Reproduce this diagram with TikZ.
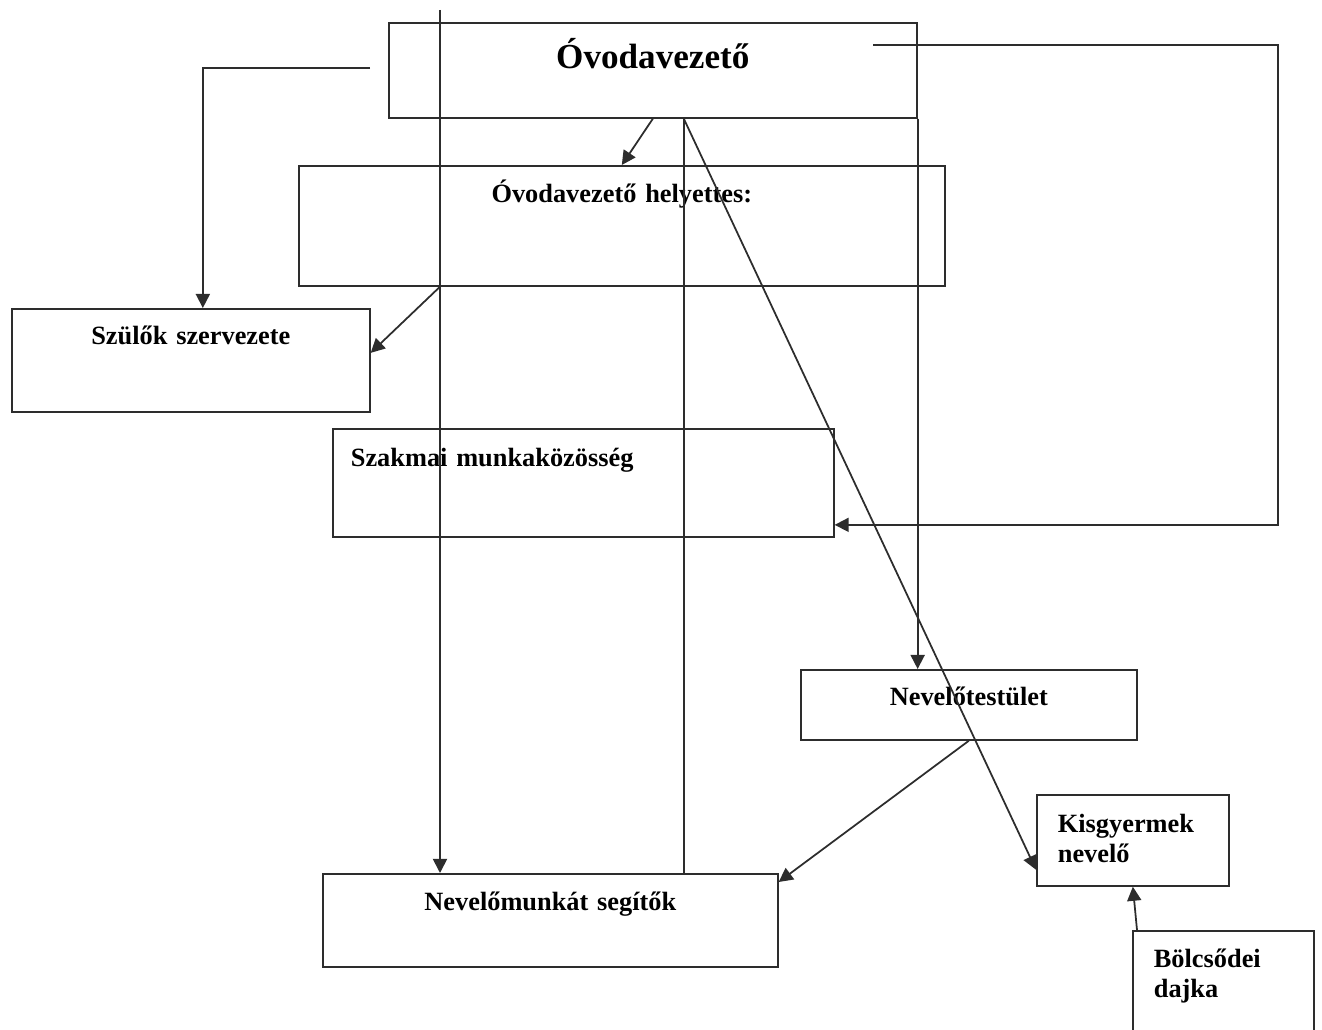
\documentclass[tikz,border=0pt]{standalone}
\usepackage{fontspec}
\setmainfont{Liberation Serif}
\definecolor{orgline}{RGB}{45,45,45}
\usetikzlibrary{arrows.meta,positioning,calc}

\begin{document}
\begin{tikzpicture}[x=0.02cm, y=-0.02cm,
  unitbox/.style={draw=orgline, line width=1pt, inner sep=0pt, anchor=north west, font=\bfseries\fontsize{15pt}{17pt}\selectfont},
  link/.style={draw=orgline, line width=1pt},
  arr/.style={link, -{Triangle[length=8pt, width=8pt]}}]
  \useasboundingbox (0,0) rectangle (1322,1030);
  \clip (0,0) rectangle (1322,1030);
  % boxes
  \node[unitbox, text width=10.56cm, align=center, text height=0.92cm, text depth=0.98cm, font=\bfseries\fontsize{20pt}{24pt}\selectfont] (vez) at (388,22) {Óvodavezető};
  \node[unitbox, text width=12.92cm, align=center, text height=0.74cm, text depth=1.66cm] (hely) at (298,165) {Óvodavezető helyettes:};
  \node[unitbox, text width=7.16cm, align=center, text height=0.72cm, text depth=1.34cm] (szulok) at (11,308) {Szülők szervezete};
  \node[unitbox, inner xsep=0.36cm, text width=9.30cm, align=left, text height=0.76cm, text depth=1.40cm] (szakmai) at (332,428) {Szakmai munkaközösség};
  \node[unitbox, text width=6.72cm, align=center, text height=0.72cm, text depth=0.68cm] (testulet) at (800,669) {Nevelőtestület};
  \node[unitbox, text width=9.10cm, align=center, text height=0.74cm, text depth=1.12cm] (segitok) at (322,873) {Nevelőmunkát segítők};
  \node[unitbox, inner xsep=0.42cm, text width=3.00cm, align=left, text height=0.76cm, text depth=1.06cm] (kisgy) at (1036,794) {Kisgyermek\\nevelő};
  \node[unitbox, inner xsep=0.42cm, text width=2.78cm, align=left, text height=0.74cm, text depth=1.56cm] (bolcs) at (1132,930) {Bölcsődei\\dajka};
  % loose ends
  \coordinate (feed) at (440,10);
  \coordinate (vezl) at (370,68);
  \coordinate (vezr) at (873,45);
  \coordinate (vezm) at ([xshift=0.62cm]vez.south);
  % connectors
  \draw[arr] (feed) -- (feed |- segitok.north);
  \draw[arr] (vezl) -| ([xshift=0.24cm]szulok.north);
  \draw[arr] (vez.south) -- (hely.north);
  \draw[link] (vezm) -- (vezm |- segitok.north);
  \draw[arr] (vezm) -- ([yshift=0.34cm]kisgy.south west);
  \draw[arr] (vez.south east) -- (vez.south east |- testulet.north);
  \draw[arr] (vezr) -- ++(405,0) |- ([yshift=-0.84cm]szakmai.east);
  \draw[arr] ([xshift=2.84cm]hely.south west) -- ([yshift=0.15cm]szulok.east);
  \draw[arr] (testulet.south) -- ([yshift=-0.18cm]segitok.north east);
  \draw[arr] ([xshift=0.1cm]bolcs.north west) -- (kisgy.south);
\end{tikzpicture}
\end{document}
